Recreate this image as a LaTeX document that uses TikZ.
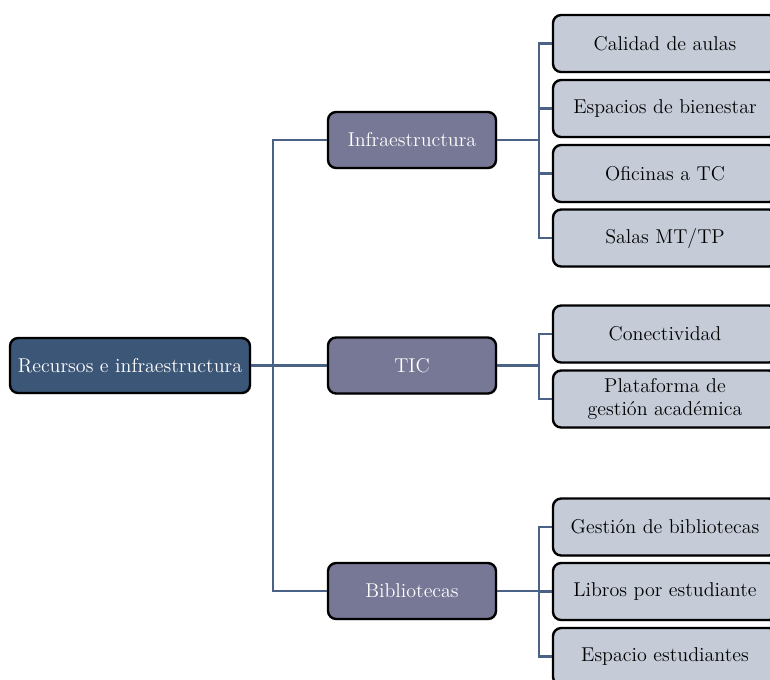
\documentclass[tikz,border=0pt]{standalone}
\usetikzlibrary{shadows}
\definecolor{rootfill}{HTML}{3C5677}
\definecolor{midfill}{HTML}{777796}
\definecolor{leaffill}{HTML}{C5CCD8}
\definecolor{linkcol}{HTML}{4A6285}
\tikzset{
  box/.style={draw=black, line width=1.3pt, rounded corners=4.5pt, align=center, inner sep=0pt,
    font=\fontsize{11}{12.5}\selectfont,
    drop shadow={shadow xshift=0.7pt, shadow yshift=-0.7pt, opacity=0.25}},
  rootbox/.style={box, fill=rootfill, text=white, minimum width={240*0.55pt}, minimum height={55*0.55pt}},
  midbox/.style={box, fill=midfill, text=white, minimum width={168*0.55pt}, minimum height={56*0.55pt}},
  leafbox/.style={box, fill=leaffill, text=black, minimum width={224*0.55pt}, minimum height={57*0.55pt}},
  link/.style={draw=linkcol, line width=1.2pt}
}
\begin{document}
\begin{tikzpicture}[x=0.55pt, y=-0.55pt]
\useasboundingbox (0,0) rectangle (770,679);
% root
\node[rootbox] (root) at (130,365.5) {Recursos e infraestructura};
% mid
\node[midbox] (infra) at (412,140) {Infraestructura};
\node[midbox] (tic) at (412,365.5) {TIC};
\node[midbox] (bib) at (412,591) {Bibliotecas};
% leaves
\node[leafbox] (l1) at (665,43.5) {Calidad de aulas};
\node[leafbox] (l2) at (665,108.5) {Espacios de bienestar};
\node[leafbox] (l3) at (665,173.5) {Oficinas a TC};
\node[leafbox] (l4) at (665,238) {Salas MT/TP};
\node[leafbox] (l5) at (665,334) {Conectividad};
\node[leafbox] (l6) at (665,399) {Plataforma de\\gestión académica};
\node[leafbox] (l7) at (665,527) {Gestión de bibliotecas};
\node[leafbox] (l8) at (665,591.5) {Libros por estudiante};
\node[leafbox] (l9) at (665,656.5) {Espacio estudiantes};
% connectors
\foreach \m in {infra,tic,bib}{
  \draw[link] (root.east) -- ++(22,0) |- (\m.west);
}
\foreach \l in {l1,l2,l3,l4}{
  \draw[link] (infra.east) -- ++(42,0) |- (\l.west);
}
\foreach \l in {l5,l6}{
  \draw[link] (tic.east) -- ++(42,0) |- (\l.west);
}
\foreach \l in {l7,l8,l9}{
  \draw[link] (bib.east) -- ++(42,0) |- (\l.west);
}
\end{tikzpicture}
\end{document}
